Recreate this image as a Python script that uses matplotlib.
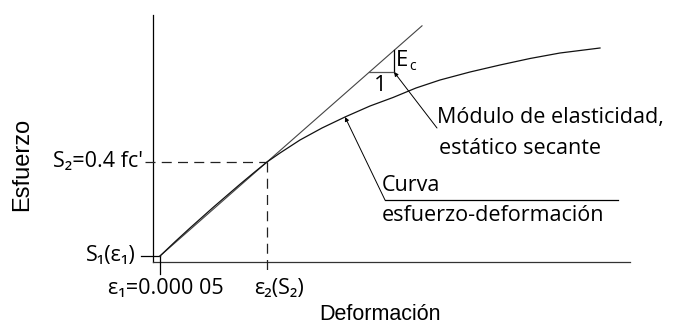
import matplotlib.pyplot as plt
import numpy as np

# DATOS (unidades relativas: deformacion x, esfuerzo en fracciones de fc')
eps1, s1 = 0.07, 0.024
eps2, s2 = 1.14, 0.40

curva_x = [0.07, 0.22, 0.37, 0.60, 0.87, 1.02, 1.14, 1.27, 1.47, 1.69, 1.92,
           2.17, 2.40, 2.63, 2.87, 3.17, 3.47, 3.77, 4.07, 4.47]
curva_y = [0.024, 0.081, 0.136, 0.218, 0.311, 0.361, 0.40, 0.436, 0.488, 0.536,
           0.58, 0.624, 0.658, 0.696, 0.728, 0.76, 0.788, 0.814, 0.836, 0.856]

x_max, y_max = 4.77, 0.988
secante_fin = 2.69
ec_x = 2.41        # lado vertical del triangulo Ec
ec_y = 0.76        # lado horizontal del triangulo
flecha_curva = (1.92, 0.58)

lbl_s2 = "S\u2082=0.4 fc'"
lbl_s1 = "S\u2081(\u03b5\u2081)"
lbl_e1 = "\u03b5\u2081=0.000 05"
lbl_e2 = "\u03b5\u2082(S\u2082)"

fam = ['Open Sans', 'DejaVu Sans']
fs = 15.5

fig = plt.figure(figsize=(6.74, 3.28), dpi=100)
ax = fig.add_axes([0, 0, 1, 1])
ax.set_xlim(-1.53, 5.21)
ax.set_ylim(-0.264, 1.048)
ax.axis('off')

lw = 0.9
# ejes
ax.plot([0, 0], [0, y_max], color='black', lw=lw)
ax.plot([0, x_max], [0, 0], color='#333333', lw=lw)

# marcas S1 y eps1
ax.plot([-0.12, eps1], [s1, s1], color='black', lw=lw)
ax.plot([eps1, eps1], [s1, -0.048], color='black', lw=lw)

# lineas discontinuas S2 / eps2
ax.plot([-0.08, eps2], [s2, s2], color='#222222', lw=lw, dashes=(8, 5))
ax.plot([eps2, eps2], [s2, -0.048], color='#222222', lw=lw, dashes=(8, 5))

# secante
m = (s2 - s1) / (eps2 - eps1)
sx = np.array([eps1, secante_fin])
ax.plot(sx, s1 + m * (sx - eps1), color='#444444', lw=0.8)

# curva esfuerzo-deformacion
ax.plot(curva_x, curva_y, color='#111111', lw=lw)

# triangulo Ec
y_top = s1 + m * (ec_x - eps1)
x_left = eps1 + (ec_y - s1) / m
ax.plot([ec_x, ec_x], [y_top, ec_y], color='black', lw=lw)
ax.plot([x_left, ec_x], [ec_y, ec_y], color='#555555', lw=lw)
ax.text(ec_x + 0.02, 0.806, "E", fontsize=16, family=fam, ha='left', va='center')
ax.text(ec_x + 0.15, 0.782, "c", fontsize=10, family=fam, ha='left', va='center')
ax.text(2.27, 0.706, "1", fontsize=16, family=fam, ha='center', va='center')

# indicador modulo
ax.annotate("", xy=(ec_x, ec_y), xytext=(2.84, 0.536),
            arrowprops=dict(arrowstyle='-|>', color='black', lw=0.7,
                            mutation_scale=6, shrinkA=0, shrinkB=0))
ax.text(2.84, 0.58, "Módulo de elasticidad,", fontsize=fs, family=fam,
        ha='left', va='center')
ax.text(2.86, 0.456, "estático secante", fontsize=fs, family=fam,
        ha='left', va='center')

# indicador curva
ax.annotate("", xy=flecha_curva, xytext=(2.32, 0.248),
            arrowprops=dict(arrowstyle='-|>', color='black', lw=0.7,
                            mutation_scale=6, shrinkA=0, shrinkB=0))
ax.plot([2.32, 4.65], [0.248, 0.248], color='black', lw=lw)
ax.text(2.29, 0.306, "Curva", fontsize=fs, family=fam, ha='left', va='center')
ax.text(2.29, 0.186, "esfuerzo-deformación", fontsize=fs, family=fam,
        ha='left', va='center')

# etiquetas de marcas
ax.text(-0.10, s2, lbl_s2, fontsize=fs, family=fam, ha='right', va='center')
ax.text(-0.17, s1, lbl_s1, fontsize=fs, family=fam, ha='right', va='center')
ax.text(0.13, -0.106, lbl_e1, fontsize=fs, family=fam, ha='center', va='center')
ax.text(1.26, -0.106, lbl_e2, fontsize=fs, family=fam, ha='center', va='center')

# titulos de ejes
ax.text(-1.31, 0.392, "Esfuerzo", fontsize=17, family='Liberation Sans',
        rotation=90, ha='center', va='center')
ax.text(2.27, -0.212, "Deformación", fontsize=15.5, family='Liberation Sans',
        ha='center', va='center')

fig.savefig('out.png', dpi=100)
